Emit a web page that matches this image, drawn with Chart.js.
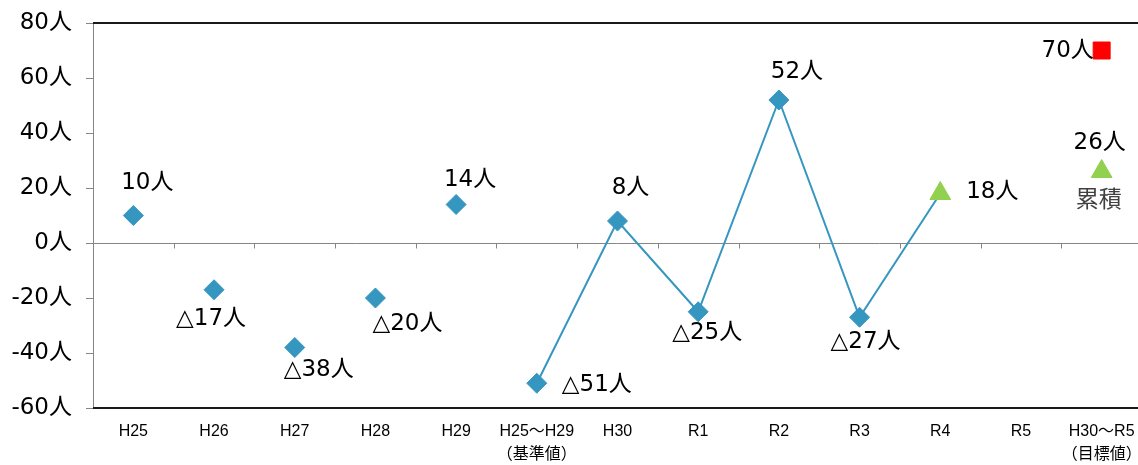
<!DOCTYPE html>
<html lang="ja">
<head>
<meta charset="utf-8">
<title>社会増減の推移</title>
<script src="https://cdn.jsdelivr.net/npm/chart.js@4/dist/chart.umd.min.js"></script>
<style>
  html, body { margin: 0; padding: 0; background: #fff; overflow: hidden; }
  #wrap { position: relative; width: 1155px; height: 465px; }
</style>
</head>
<body>
<div id="wrap"><canvas id="chart"></canvas></div>
<script>
// Categories (fiscal years, base period, target period)
const categories = [
  'H25', 'H26', 'H27', 'H28', 'H29',
  ['H25～H29', '（基準値）'],
  'H30', 'R1', 'R2', 'R3', 'R4', 'R5',
  ['H30～R5', '（目標値）']
];

// Single-year values before the base period (not connected)
const pastValues = [10, -17, -38, -20, 14, null, null, null, null, null, null, null, null];

// Base period and yearly results since H30 (connected line)
const trendValues = [null, null, null, null, null, -51, 8, -25, 52, -27, 18, null, null];

// Cumulative result for H30～R5
const cumulativeValues = [null, null, null, null, null, null, null, null, null, null, null, null, 26];

// Target for H30～R5
const targetValues = [null, null, null, null, null, null, null, null, null, null, null, null, 70];

// Value axis ticks
const yTicks = [-60, -40, -20, 0, 20, 40, 60, 80];

// Index of the latest year (drawn as a triangle)
const latestIndex = 10;

// Label placement relative to each point [dx, dy]
const labelOffsets = [
  [14, -32], [-3, 29], [24, 23], [32, 26], [14, -24],
  [60, 2], [13, -33], [9, 21], [18, -28], [6, 25], [52, -1], null, null
];
const cumulativeLabelOffset = [-2, -28];
const cumulativeNoteOffset = [-3, 30];
const targetLabelOffset = [-34, 1];

const BLUE = '#3596bf';
const GREEN = '#92d050';
const RED = '#ff0000';
const AXIS_GRAY = '#868686';
const NUM_FONT = '"DejaVu Sans", "Noto Sans CJK JP", sans-serif';

function fmt(v) {
  return (v < 0 ? '△' + Math.abs(v) : String(v)) + '人';
}

// Plot frame, zero line with category tick marks
const framePlugin = {
  id: 'frame',
  beforeDatasetsDraw(chart) {
    const { ctx, chartArea: a, scales: { x, y } } = chart;
    ctx.save();
    // zero line
    const y0 = Math.round(y.getPixelForValue(0)) + 0.5;
    ctx.strokeStyle = AXIS_GRAY;
    ctx.lineWidth = 1;
    ctx.beginPath();
    ctx.moveTo(a.left, y0);
    ctx.lineTo(a.right, y0);
    const n = categories.length;
    for (let i = 1; i < n; i++) {
      const xp = Math.round((x.getPixelForValue(i - 1) + x.getPixelForValue(i)) / 2) + 0.5;
      ctx.moveTo(xp, y0);
      ctx.lineTo(xp, y0 + 5);
    }
    ctx.stroke();
    // top and bottom frame
    ctx.strokeStyle = '#1a1a1a';
    ctx.lineWidth = 2;
    ctx.beginPath();
    ctx.moveTo(a.left, a.top);
    ctx.lineTo(a.right, a.top);
    ctx.moveTo(a.left, a.bottom);
    ctx.lineTo(a.right, a.bottom);
    ctx.stroke();
    ctx.restore();
  }
};

// Value labels beside the markers
const labelPlugin = {
  id: 'valueLabels',
  afterDatasetsDraw(chart) {
    const { ctx, scales: { x, y } } = chart;
    ctx.save();
    ctx.font = '23px ' + NUM_FONT;
    ctx.textAlign = 'center';
    ctx.textBaseline = 'middle';
    ctx.fillStyle = '#000';
    const draw = (i, v, off, text) => {
      if (v === null || !off) return;
      ctx.fillText(text, x.getPixelForValue(i) + off[0], y.getPixelForValue(v) + off[1]);
    };
    categories.forEach((c, i) => {
      const v = pastValues[i] !== null ? pastValues[i] : trendValues[i];
      if (v !== null) draw(i, v, labelOffsets[i], fmt(v));
      if (cumulativeValues[i] !== null) {
        draw(i, cumulativeValues[i], cumulativeLabelOffset, fmt(cumulativeValues[i]));
        ctx.fillStyle = '#404040';
        draw(i, cumulativeValues[i], cumulativeNoteOffset, '累積');
        ctx.fillStyle = '#000';
      }
      if (targetValues[i] !== null) {
        draw(i, targetValues[i], targetLabelOffset, fmt(targetValues[i]));
      }
    });
    ctx.restore();
  }
};

new Chart(document.getElementById('chart'), {
  type: 'line',
  data: {
    labels: categories,
    datasets: [
      {
        label: '推移',
        data: trendValues,
        borderColor: BLUE,
        borderWidth: 2,
        pointStyle: c => c.dataIndex === latestIndex ? 'triangle' : 'rectRot',
        pointRadius: c => c.dataIndex === latestIndex ? 12 : 10,
        pointBackgroundColor: c => c.dataIndex === latestIndex ? GREEN : BLUE,
        pointBorderColor: c => c.dataIndex === latestIndex ? GREEN : BLUE,
        pointBorderWidth: 1,
        spanGaps: false,
        clip: false
      },
      {
        label: '各年',
        data: pastValues,
        showLine: false,
        pointStyle: 'rectRot',
        pointRadius: 10,
        pointBackgroundColor: BLUE,
        pointBorderColor: BLUE,
        pointBorderWidth: 1,
        clip: false
      },
      {
        label: '累積',
        data: cumulativeValues,
        showLine: false,
        pointStyle: 'triangle',
        pointRadius: 12,
        pointBackgroundColor: GREEN,
        pointBorderColor: GREEN,
        pointBorderWidth: 1,
        clip: false
      },
      {
        label: '目標値',
        data: targetValues,
        showLine: false,
        pointStyle: 'rect',
        pointRadius: 12,
        pointBackgroundColor: RED,
        pointBorderColor: RED,
        pointBorderWidth: 1,
        clip: false
      }
    ]
  },
  options: {
    responsive: true,
    maintainAspectRatio: false,
    animation: false,
    layout: { padding: { top: 23, left: 0, right: 0, bottom: 0 } },
    plugins: {
      legend: { display: false },
      tooltip: { enabled: false },
      title: { display: false }
    },
    scales: {
      x: {
        type: 'category',
        offset: true,
        grid: { display: false, drawTicks: false },
        border: { display: false },
        ticks: {
          autoSkip: false,
          maxRotation: 0,
          minRotation: 0,
          padding: 12,
          color: '#000',
          font: { family: '"Liberation Sans", Arial, "Noto Sans CJK JP", sans-serif', size: 16, lineHeight: 1.44 }
        },
        afterFit(s) {
          s.height = 57;
          s.paddingLeft = 0;
          s.paddingRight = 0;
        }
      },
      y: {
        min: yTicks[0],
        max: yTicks[yTicks.length - 1],
        afterBuildTicks(s) { s.ticks = yTicks.map(v => ({ value: v })); },
        grid: { drawOnChartArea: false, drawTicks: true, tickLength: 7, color: AXIS_GRAY, lineWidth: 1 },
        border: { display: true, color: AXIS_GRAY, width: 1 },
        ticks: {
          padding: 14,
          color: '#000',
          font: { family: NUM_FONT, size: 23 },
          callback: v => v + '人'
        },
        afterFit(s) {
          s.width = 93;
          s.paddingTop = 0;
          s.paddingBottom = 0;
        }
      }
    }
  },
  plugins: [framePlugin, labelPlugin]
});
</script>
</body>
</html>
